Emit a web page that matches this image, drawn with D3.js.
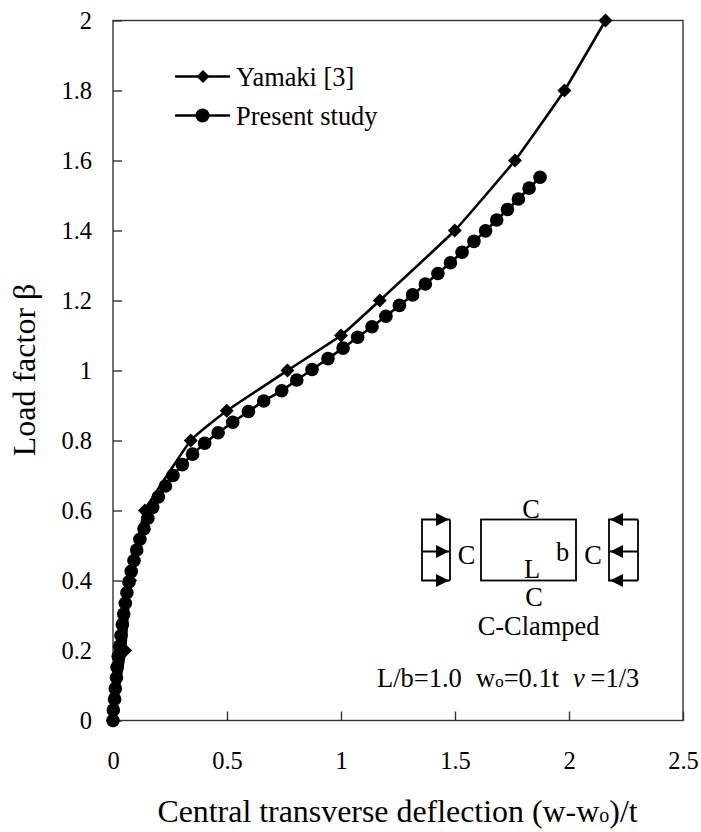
<!DOCTYPE html>
<html>
<head>
<meta charset="utf-8">
<script src="https://cdn.jsdelivr.net/npm/d3@7"></script>
<style>
body { margin: 0; background: #fff; }
text { font-family: "Liberation Serif", serif; fill: #000; }
</style>
</head>
<body>
<svg id="chart" width="701" height="832"></svg>
<script>
const xTicks = [0, 0.5, 1, 1.5, 2, 2.5];
const yTicks = [0, 0.2, 0.4, 0.6, 0.8, 1, 1.2, 1.4, 1.6, 1.8, 2];

const yamakiX = [0, 0.053, 0.075, 0.14, 0.341, 0.499, 0.765, 1.0, 1.17, 1.499, 1.763, 1.98, 2.16];
const yamakiY = [0, 0.2, 0.4, 0.6, 0.8, 0.885, 1.0, 1.1, 1.2, 1.4, 1.6, 1.8, 2];

const studyX = [0, 0.0015, 0.007, 0.01, 0.015, 0.018, 0.023, 0.029, 0.035, 0.041, 0.047, 0.054, 0.061,
    0.07, 0.08, 0.092, 0.104, 0.118, 0.136, 0.153, 0.174, 0.199, 0.23, 0.263, 0.304, 0.349, 0.402,
    0.461, 0.525, 0.594, 0.661, 0.74, 0.806, 0.873, 0.943, 1.009, 1.073, 1.136, 1.197, 1.256, 1.314,
    1.37, 1.425, 1.48, 1.531, 1.583, 1.634, 1.683, 1.73, 1.778, 1.825, 1.873];
const studyY = [0, 0.03, 0.061, 0.091, 0.122, 0.152, 0.183, 0.213, 0.243, 0.274, 0.304, 0.335, 0.365,
    0.396, 0.426, 0.457, 0.487, 0.518, 0.548, 0.578, 0.609, 0.639, 0.67, 0.7, 0.731, 0.761, 0.792,
    0.822, 0.852, 0.883, 0.913, 0.942, 0.973, 1.003, 1.034, 1.064, 1.095, 1.125, 1.155, 1.186, 1.216,
    1.247, 1.277, 1.308, 1.338, 1.369, 1.399, 1.43, 1.46, 1.49, 1.521, 1.552];

const yamaki = yamakiX.map((x, i) => [x, yamakiY[i]]);
const study = studyX.map((x, i) => [x, studyY[i]]);

const x = d3.scaleLinear().domain([0, 2.5]).range([113, 683]);
const y = d3.scaleLinear().domain([0, 2]).range([720.5, 20.5]);
const axisColor = '#333';

const svg = d3.select('#chart');

svg.append('rect')
    .attr('x', x(0))
    .attr('y', y(2))
    .attr('width', x(2.5) - x(0))
    .attr('height', y(0) - y(2))
    .attr('fill', 'none')
    .attr('stroke', axisColor)
    .attr('stroke-width', 1.4);

const xAxis = svg.append('g')
    .attr('transform', `translate(0,${y(0)})`)
    .call(d3.axisBottom(x).tickValues(xTicks).tickSize(-9).tickPadding(31).tickFormat(d3.format('')));
const yAxis = svg.append('g')
    .attr('transform', `translate(${x(0)},0)`)
    .call(d3.axisLeft(y).tickValues(yTicks).tickSize(-9).tickPadding(21).tickFormat(d3.format('')));
[xAxis, yAxis].forEach(a => {
    a.select('.domain').remove();
    a.selectAll('line').attr('stroke', axisColor).attr('stroke-width', 1.4);
    a.selectAll('text').attr('font-size', 24.5).attr('font-family', '"Liberation Serif", serif');
});

const line = d3.line().x(d => x(d[0])).y(d => y(d[1]));

svg.append('path')
    .attr('d', line.curve(d3.curveCardinal.tension(0.7))(yamaki))
    .attr('fill', 'none')
    .attr('stroke', '#000')
    .attr('stroke-width', 2.6);
svg.append('path')
    .attr('d', line.curve(d3.curveLinear)(study))
    .attr('fill', 'none')
    .attr('stroke', '#000')
    .attr('stroke-width', 2.6);

const diamond = s => `M0,${-s}L${s},0L0,${s}L${-s},0Z`;
svg.selectAll('.yamaki')
    .data(yamaki)
    .enter().append('path')
    .classed('yamaki', true)
    .attr('d', diamond(7))
    .attr('transform', d => `translate(${x(d[0])},${y(d[1])})`);
svg.selectAll('.study')
    .data(study)
    .enter().append('circle')
    .classed('study', true)
    .attr('cx', d => x(d[0]))
    .attr('cy', d => y(d[1]))
    .attr('r', 6.8);

// legend
const legend = svg.append('g');
[['Yamaki [3]', 76.5], ['Present study', 115.5]].forEach(([name, ly], i) => {
    legend.append('line')
        .attr('x1', 175).attr('x2', 230)
        .attr('y1', ly).attr('y2', ly)
        .attr('stroke', '#000').attr('stroke-width', 2.6);
    if (i === 0) {
        legend.append('path').attr('d', diamond(6.5)).attr('transform', `translate(203,${ly})`);
    } else {
        legend.append('circle').attr('cx', 202.5).attr('cy', ly).attr('r', 7);
    }
    legend.append('text').attr('x', 236).attr('y', ly + 9.5).attr('font-size', 26.4).text(name);
});

// axis titles
const xTitle = svg.append('text')
    .attr('x', 397.5).attr('y', 822)
    .attr('text-anchor', 'middle')
    .attr('font-size', 31.9);
xTitle.append('tspan').text('Central transverse deflection (w-w');
xTitle.append('tspan').attr('font-size', 20).text('o');
xTitle.append('tspan').text(')/t');
svg.append('text')
    .attr('transform', 'translate(35,370) rotate(-90)')
    .attr('text-anchor', 'middle')
    .attr('font-size', 32)
    .text('Load factor \u03b2');

// clamped plate sketch
const sketch = svg.append('g').attr('fill', 'none').attr('stroke', '#000').attr('stroke-width', 1.8);
sketch.append('rect').attr('x', 481).attr('y', 519.5).attr('width', 95).attr('height', 61);
sketch.append('path').attr('d', 'M450,519.5H422V580.5H450M422,551.5H450M450,519.5V580.5');
sketch.append('path').attr('d', 'M638,519.5H609V580.5H638M638,551.5H609M638,519.5V580.5');
const arrow = (tipX, dir, ay) => `M${tipX},${ay}L${tipX - dir * 13},${ay - 6.5}L${tipX - dir * 13},${ay + 6.5}Z`;
[519.5, 551.5, 580.5].forEach(ay => {
    svg.append('path').attr('d', arrow(449, 1, ay));
    svg.append('path').attr('d', arrow(610, -1, ay));
});
const label = (t, lx, ly) => svg.append('text')
    .attr('x', lx).attr('y', ly).attr('text-anchor', 'middle').attr('font-size', 26.4).text(t);
label('C', 531, 518);
label('C', 466.5, 564);
label('b', 562.5, 561);
label('C', 593, 564);
label('L', 532, 578);
label('C', 534, 606);
label('C-Clamped', 538.5, 635);
const note = svg.append('text').attr('y', 687).attr('font-size', 26.5);
note.append('tspan').attr('x', 377).text('L/b=1.0');
note.append('tspan').attr('x', 476).text('w');
note.append('tspan').attr('font-size', 17).text('o');
note.append('tspan').text('=0.1t');
note.append('tspan').attr('x', 573).attr('font-style', 'italic').text('v');
note.append('tspan').attr('x', 590.5).text('=1/3');
</script>
</body>
</html>
